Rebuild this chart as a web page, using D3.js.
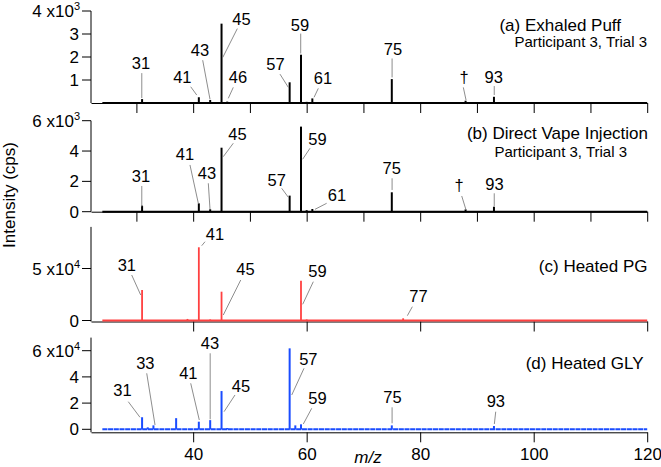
<!DOCTYPE html>
<html>
<head>
<meta charset="utf-8">
<script src="https://cdn.jsdelivr.net/npm/d3@7"></script>
<style>
body { margin: 0; background: #fff; }
text { font-family: "Liberation Sans", Arial, Helvetica, sans-serif; fill: #000; }
</style>
</head>
<body>
<svg id="chart" width="661" height="467"></svg>
<script>
// stick spectra, m/z vs intensity (cps)
const mzA = [29, 31, 41, 43, 45, 46, 57, 59, 60, 61, 75, 88, 93]
const intA = [30, 170, 250, 130, 3450, 60, 900, 2100, 50, 200, 1040, 100, 270]

const mzB = [31, 41, 43, 45, 57, 59, 60, 61, 75, 88, 93, 95]
const intB = [400, 550, 160, 4220, 1060, 5610, 100, 180, 1280, 150, 330, 40]

const mzC = [31, 37, 39, 41, 43, 45, 59, 60, 77]
const intC = [29300, 500, 1500, 70400, 1000, 27700, 38300, 1000, 2100]

const mzD = [31, 32, 33, 37, 41, 43, 45, 46, 57, 58, 59, 75, 93]
const intD = [9200, 1500, 3000, 8500, 5800, 7000, 29200, 1000, 61800, 3000, 3800, 3000, 2500]

// peak labels: [text, label m/z, label intensity, leader start m/z, start int, leader end m/z, end int]
const labelsA = [
    ['31', 30.81, 1459, 30.95, 1299, 30.95, 216],
    ['41', 38.09, 853, 39.57, 706, 40.63, 346],
    ['43', 41.21, 2035, 41.68, 1861, 42.97, 160],
    ['45', 48.52, 3377, 47.78, 3234, 45.21, 1978],
    ['46', 47.90, 853, 47.07, 680, 46.19, 203],
    ['57', 54.51, 1429, 55.30, 1255, 56.77, 680],
    ['59', 58.83, 3130, 58.95, 3017, 58.95, 2152],
    ['61', 62.88, 823, 62.05, 636, 61.30, 247],
    ['75', 75.22, 2078, 75.05, 1935, 75.05, 1113],
    ['\u2020', 87.73, 866, 87.60, 680, 88.08, 130],
    ['93', 92.96, 879, 93.05, 736, 93.05, 346]
]
const labelsB = [
    ['31', 30.81, 1980, 30.95, 1696, 30.95, 330],
    ['41', 38.56, 3412, 39.44, 3082, 40.91, 554],
    ['43', 42.44, 2158, 42.67, 1874, 42.97, 158],
    ['45', 47.81, 4732, 47.07, 4514, 45.31, 3630],
    ['57', 54.72, 1696, 55.60, 1544, 56.77, 950],
    ['59', 61.91, 4402, 60.59, 4184, 59.29, 3458],
    ['61', 65.35, 726, 63.52, 554, 61.47, 158],
    ['75', 74.99, 2468, 75.05, 2204, 75.05, 1432],
    ['\u2020', 86.85, 1366, 87.32, 1036, 88.08, 112],
    ['93', 93.10, 1432, 93.05, 1214, 93.05, 376]
]
const labelsC = [
    ['31', 28.31, 47594, 29.17, 43748, 30.76, 24518],
    ['41', 43.85, 77400, 42.09, 75766, 41.51, 71920],
    ['45', 49.22, 43748, 48.38, 38940, 45.31, 5288],
    ['59', 61.91, 41537, 61.17, 37306, 59.30, 15576],
    ['77', 79.71, 18076, 78.62, 13269, 77.74, 4615]
]
const labelsD = [
    ['31', 27.55, 25421, 28.57, 21070, 30.63, 9161],
    ['33', 31.57, 45804, 31.82, 42750, 33.28, 3283],
    ['41', 39.15, 38170, 39.57, 35116, 41.08, 7100],
    ['43', 42.97, 61072, 43.0, 58018, 43.0, 7634],
    ['45', 48.43, 28704, 47.37, 26185, 45.44, 13436],
    ['57', 60.29, 49086, 59.53, 46567, 57.37, 26185],
    ['59', 61.91, 19314, 60.89, 16031, 59.41, 4046],
    ['75', 75.13, 19848, 75.05, 16795, 75.05, 4580],
    ['93', 93.33, 16795, 93.31, 13436, 93.07, 4046]
]

const xTicksFine = [30, 40, 50, 60, 70, 80, 90, 100, 110, 120]
const xTicksCoarse = [40, 60, 80, 100, 120]

const panels = [
    { mz: mzA, val: intA, labels: labelsA, ymax: 4000, yticks: [1000, 2000, 3000, 4000], exp: 3,
      y0: 103, yTopTick: 11, axisShift: 0, xticks: xTicksFine, colour: '#000', width: 2, dashed: false,
      title: '(a) Exhaled Puff', titleX: 621, titleY: 31, sub: 'Participant 3, Trial 3', subX: 647, subY: 47 },
    { mz: mzB, val: intB, labels: labelsB, ymax: 6000, yticks: [0, 2000, 4000, 6000], exp: 3,
      y0: 211.7, yTopTick: 120.7, axisShift: 0, xticks: xTicksFine, colour: '#000', width: 2, dashed: false,
      title: '(b) Direct Vape Injection', titleX: 648, titleY: 138.5, sub: 'Participant 3, Trial 3', subX: 627, subY: 156.5 },
    { mz: mzC, val: intC, labels: labelsC, ymax: 90000, yticks: [0, 50000], exp: 4, tickRef: 50000,
      y0: 320.5, yTopTick: 268.5, axisShift: 1, xticks: xTicksCoarse, colour: '#ff4040', width: 1.8, dashed: false,
      title: '(c) Heated PG', titleX: 647.5, titleY: 271.5 },
    { mz: mzD, val: intD, labels: labelsD, ymax: 70000, yticks: [0, 20000, 40000, 60000], exp: 4, tickRef: 60000,
      y0: 429.3, yTopTick: 350.7, axisShift: 3, xticks: xTicksCoarse, colour: '#1a4cff', width: 2, dashed: true,
      title: '(d) Heated GLY', titleX: 643.5, titleY: 368.5, bottom: true }
]

const x = d3.scaleLinear().domain([22, 120]).range([91, 647.2])
const svg = d3.select('#chart')

panels.forEach(p => {
    // the top labelled tick fixes the scale
    let ref = p.tickRef || p.ymax
    let y = d3.scaleLinear().domain([0, ref]).range([p.y0, p.yTopTick])
    let g = svg.append('g')
    let axisY = p.y0 + p.axisShift
    let top = p.yticks[p.yticks.length - 1]

    // y axis
    g.append('line')
        .attr('x1', 91).attr('x2', 91)
        .attr('y1', axisY).attr('y2', y(p.ymax))
        .attr('stroke', '#000').attr('stroke-width', 1)
    g.selectAll('.ytick')
        .data(p.yticks)
        .join('line')
        .attr('x1', 82).attr('x2', 91)
        .attr('y1', d => y(d)).attr('y2', d => y(d))
        .attr('stroke', '#000')
    let ylab = g.selectAll('.ylab')
        .data(p.yticks)
        .join('text')
        .attr('x', d => d === top ? 80 : 79)
        .attr('y', d => y(d) + 6)
        .attr('text-anchor', 'end')
        .style('font-size', '17px')
    ylab.append('tspan').text(d => d / Math.pow(10, p.exp) + (d === top ? '\u00a0x10' : ''))
    // exponent on the top tick only
    ylab.filter(d => d === top)
        .append('tspan')
        .attr('dy', -7)
        .style('font-size', '11px')
        .text(p.exp)

    // x axis
    let xa = d3.axisBottom(x)
        .tickValues(p.xticks)
        .tickSize(10)
        .tickSizeOuter(0)
        .tickPadding(6)
        .tickFormat(p.bottom ? d3.format('d') : '')
    let xg = g.append('g')
        .attr('transform', `translate(0,${axisY})`)
        .call(xa)
    xg.select('.domain').attr('stroke', '#000').attr('stroke-width', 1)
    xg.selectAll('text')
        .style('font-size', '17px')
        .style('font-family', '"Liberation Sans", Arial, sans-serif')
        .attr('fill', '#000')

    // baseline
    g.append('line')
        .attr('x1', x(24)).attr('x2', x(120))
        .attr('y1', y(0)).attr('y2', y(0))
        .attr('stroke', p.colour)
        .attr('stroke-width', 2)
        .attr('stroke-dasharray', p.dashed ? '5.1,0.6' : null)

    // peaks
    g.selectAll('.peak')
        .data(p.mz.map((m, i) => [m, p.val[i]]))
        .join('line')
        .attr('x1', d => x(d[0])).attr('x2', d => x(d[0]))
        .attr('y1', y(0)).attr('y2', d => y(d[1]))
        .attr('stroke', p.colour)
        .attr('stroke-width', p.width)

    // labels + leaders
    g.selectAll('.leader')
        .data(p.labels)
        .join('line')
        .attr('x1', d => x(d[3])).attr('y1', d => y(d[4]))
        .attr('x2', d => x(d[5])).attr('y2', d => y(d[6]))
        .attr('stroke', '#707070')
        .attr('stroke-width', 0.8)
    g.selectAll('.plab')
        .data(p.labels)
        .join('text')
        .attr('x', d => x(d[1]))
        .attr('y', d => y(d[2]))
        .attr('text-anchor', 'middle')
        .style('font-size', '16.5px')
        .text(d => d[0])

    // titles
    g.append('text')
        .attr('x', p.titleX).attr('y', p.titleY)
        .attr('text-anchor', 'end')
        .style('font-size', '17px')
        .text(p.title)
    if (p.sub) {
        g.append('text')
            .attr('x', p.subX).attr('y', p.subY)
            .attr('text-anchor', 'end')
            .style('font-size', '15px')
            .text(p.sub)
    }
})

svg.append('text')
    .attr('transform', 'translate(14.5,195) rotate(-90)')
    .attr('text-anchor', 'middle')
    .style('font-size', '17px')
    .text('Intensity (cps)')

svg.append('text')
    .attr('x', 368).attr('y', 463)
    .attr('text-anchor', 'middle')
    .style('font-size', '17px')
    .style('font-style', 'italic')
    .text('m/z')
</script>
</body>
</html>
